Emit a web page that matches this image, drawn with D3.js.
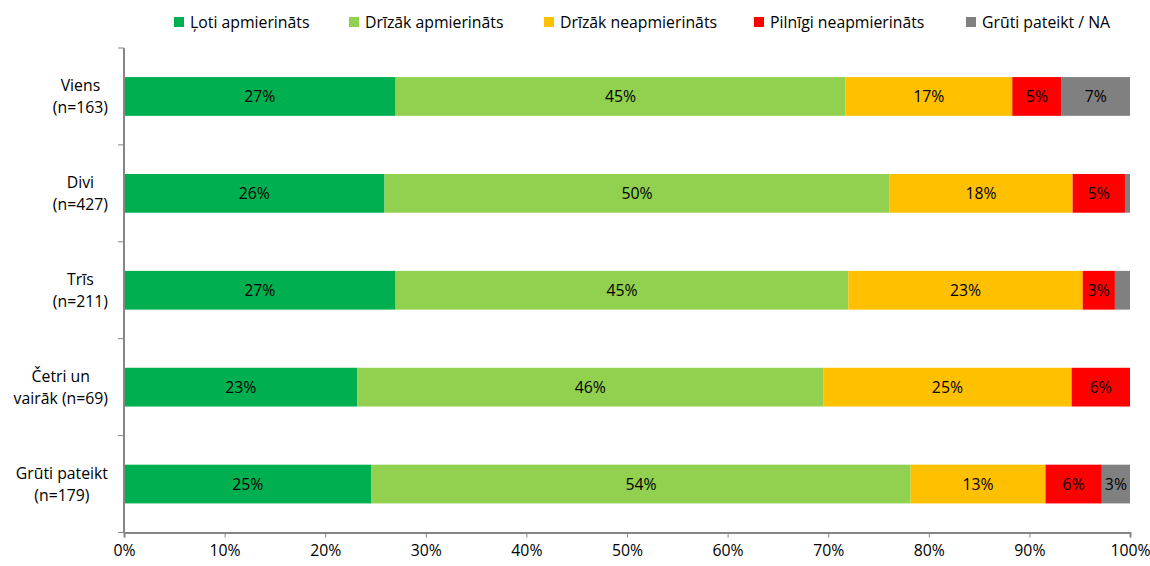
<!DOCTYPE html>
<html>
<head>
<meta charset="utf-8">
<script src="https://cdn.jsdelivr.net/npm/d3@7"></script>
<style>
  html, body { margin: 0; padding: 0; background: #fff; }
  svg { display: block; font-family: "Open Sans", Lato, sans-serif; }
</style>
</head>
<body>
<svg id="chart" width="1150" height="566"></svg>
<script>
// Respondent groups (two-line labels)
const categories = [
  ["Viens", "(n=163)"],
  ["Divi", "(n=427)"],
  ["Trīs", "(n=211)"],
  ["Četri un", "vairāk (n=69)"],
  ["Grūti pateikt", "(n=179)"]
];

const seriesNames = [
  "Ļoti apmierināts",
  "Drīzāk apmierināts",
  "Drīzāk neapmierināts",
  "Pilnīgi neapmierināts",
  "Grūti pateikt / NA"
];
const seriesColors = ["#00B050", "#92D050", "#FFC000", "#FF0000", "#808080"];

// Shares (%) per group, one array per answer option
const veryValues      = [27.0, 25.9, 27.0, 23.2, 24.6];
const ratherValues    = [44.7, 50.2, 45.0, 46.3, 53.6];
const ratherNotValues = [16.6, 18.2, 23.3, 24.7, 13.4];
const notAtAllValues  = [4.9,  5.2,  3.2,  5.8,  5.6];
const naValues        = [6.8,  0.5,  1.5,  0.0,  2.8];

const xTicks = [0, 10, 20, 30, 40, 50, 60, 70, 80, 90, 100];

const seriesValues = [veryValues, ratherValues, ratherNotValues, notAtAllValues, naValues];

const FS = 15.8;
const svg = d3.select("#chart");
const margin = { left: 124, right: 20, top: 48, bottom: 33 };
const W = 1150, H = 566;
const plotRight = W - margin.right;
const plotBottom = H - margin.bottom - 0.5;

const x = d3.scaleLinear().domain([0, 100]).range([margin.left, plotRight]);
const y = d3.scaleBand()
  .domain(d3.range(categories.length))
  .range([margin.top, plotBottom])
  .paddingInner(0.6)
  .paddingOuter(0.3);
const step = y.step();

// Stack the rows
const rows = categories.map((c, i) => {
  const r = { idx: i };
  seriesNames.forEach((s, k) => r[k] = seriesValues[k][i]);
  return r;
});
const stack = d3.stack().keys(d3.range(seriesNames.length))(rows);

const g = svg.append("g");
stack.forEach((layer, k) => {
  const lg = g.append("g").attr("fill", seriesColors[k]);
  lg.selectAll("rect")
    .data(layer)
    .join("rect")
    .attr("x", d => x(d[0]))
    .attr("y", d => y(d.data.idx))
    .attr("width", d => Math.max(0, x(d[1]) - x(d[0])))
    .attr("height", y.bandwidth());

  g.append("g").selectAll("text")
    .data(layer.filter(d => d[1] - d[0] >= 2))
    .join("text")
    .attr("x", d => (x(d[0]) + x(d[1])) / 2)
    .attr("y", d => y(d.data.idx) + y.bandwidth() / 2)
    .attr("dy", "0.36em")
    .attr("text-anchor", "middle")
    .attr("font-size", FS)
    .attr("fill", "#000")
    .text(d => Math.round(d[1] - d[0]) + "%");
});

// X axis
const xAxis = svg.append("g")
  .attr("transform", `translate(0,${plotBottom})`)
  .call(d3.axisBottom(x).tickValues(xTicks).tickSize(5).tickFormat(d => d + "%"));
xAxis.select(".domain").attr("stroke", "#868686").attr("stroke-width", 2);
xAxis.selectAll(".tick line").attr("stroke", "#868686");
xAxis.selectAll(".tick text").attr("font-size", FS).attr("fill", "#000")
  .attr("font-family", "'Open Sans', sans-serif").attr("dy", "0.95em");

// Y axis line with ticks between the groups
const yAxisG = svg.append("g");
yAxisG.append("line")
  .attr("x1", margin.left).attr("x2", margin.left)
  .attr("y1", margin.top).attr("y2", plotBottom)
  .attr("stroke", "#868686").attr("stroke-width", 2);
yAxisG.selectAll("line.tick")
  .data(d3.range(categories.length + 1))
  .join("line")
  .attr("class", "tick")
  .attr("x1", margin.left - 6).attr("x2", margin.left)
  .attr("y1", i => margin.top + i * step)
  .attr("y2", i => margin.top + i * step)
  .attr("stroke", "#868686");

// Category labels: lines centered together, block right-aligned
const labelRight = 108;
categories.forEach((lines, i) => {
  const cy = y(i) + y.bandwidth() / 2;
  const t = svg.append("text")
    .attr("text-anchor", "middle")
    .attr("font-size", FS)
    .attr("fill", "#000");
  lines.forEach((ln, j) => {
    t.append("tspan")
      .attr("x", 0)
      .attr("y", cy + (j - (lines.length - 1) / 2) * 22)
      .attr("dy", "0.36em")
      .text(ln);
  });
  const w = d3.max(t.selectAll("tspan").nodes(), n => n.getComputedTextLength());
  t.selectAll("tspan").attr("x", labelRight - w / 2);
});

// Legend
const legendX = [174, 349, 544, 754, 966];
const legend = svg.append("g");
seriesNames.forEach((name, k) => {
  legend.append("rect")
    .attr("x", legendX[k]).attr("y", 17)
    .attr("width", 10).attr("height", 10)
    .attr("fill", seriesColors[k]);
  legend.append("text")
    .attr("x", legendX[k] + 16).attr("y", 22)
    .attr("dy", "0.36em")
    .attr("font-size", FS)
    .attr("fill", "#000")
    .text(name);
});
</script>
</body>
</html>
